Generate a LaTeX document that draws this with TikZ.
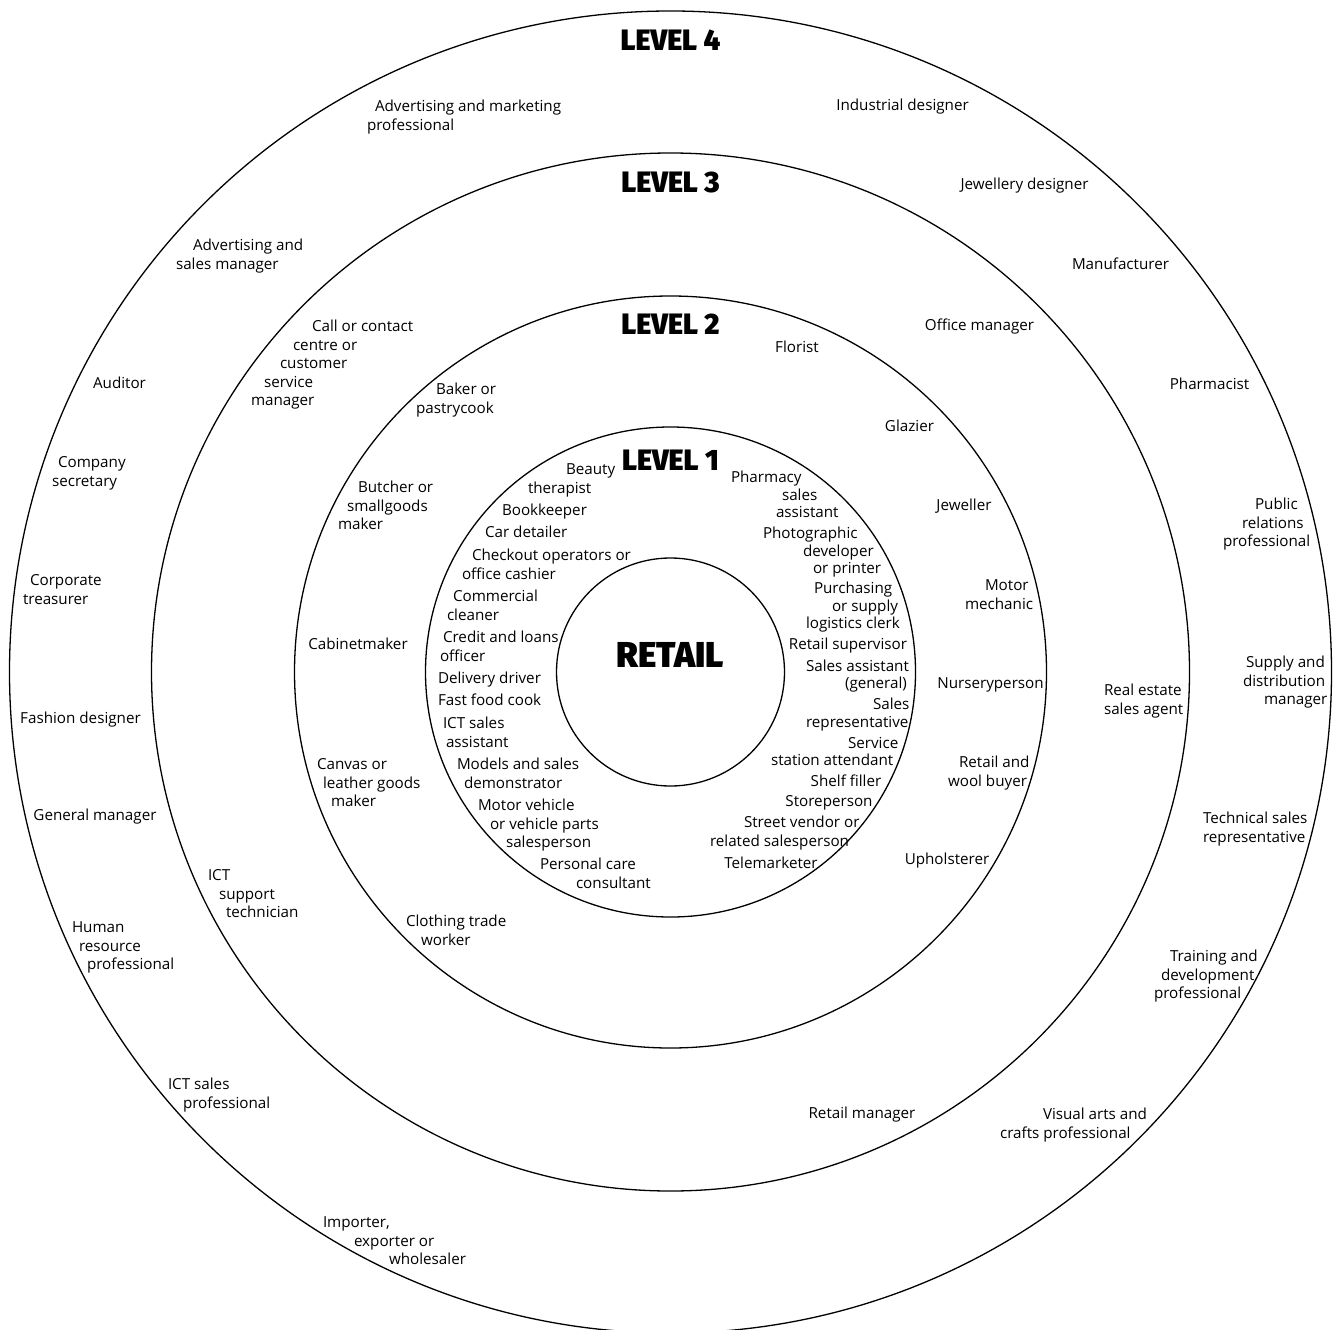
\documentclass[tikz,border=0pt]{standalone}
\usepackage{fontspec}
\setmainfont{Open Sans}
\IfFontExistsTF{Fira Sans Black}{%
  \newfontfamily\headfont{Fira Sans Black}[FakeStretch=0.975]%
  \newcommand{\levelsize}{\fontsize{29.5pt}{30pt}\selectfont}%
  \newcommand{\retailsize}{\fontsize{36pt}{36pt}\selectfont}%
}{%
  \newfontfamily\headfont{TeX Gyre Heros Bold}[FakeStretch=0.86]%
  \newcommand{\levelsize}{\fontsize{28.3pt}{29pt}\selectfont}%
  \newcommand{\retailsize}{\fontsize{34.4pt}{35pt}\selectfont}%
}
\newcommand{\bodyfs}{\fontsize{15.2pt}{18.6pt}\selectfont}
\newcommand{\ml}[1]{\begin{tabular}[t]{@{}l@{}}#1\end{tabular}}
\newcommand{\hs}[1]{\hspace*{#1pt}}
\tikzset{
  lbl/.style={inner sep=0pt, outer sep=0pt, anchor=base west, font=\bodyfs, yshift=-1.5pt},
  one/.style={inner sep=0pt, outer sep=0pt, anchor=base, font=\bodyfs, yshift=-1.5pt},
  headlbl/.style={inner sep=0pt, outer sep=0pt, anchor=base, font=\headfont\levelsize},
  ring/.style={line width=1.3pt, draw=black}
}
\begin{document}
\begin{tikzpicture}[x=1pt,y=-1pt]
\useasboundingbox (0,0) rectangle (1337,1329);
\coordinate (c) at (670.5,672);
\draw[ring] (c) circle[radius=114];
\draw[ring] (c) circle[radius=245];
\draw[ring] (c) circle[radius=376];
\draw[ring] (c) circle[radius=519];
\draw[ring] (c) circle[radius=661];

% headings
\node[headlbl, font=\headfont\retailsize] (retail) at (670.5,667) {RETAIL};
\node[headlbl] (lev1) at (670.5,470) {LEVEL 1};
\node[headlbl] (lev2) at (670.5,334) {LEVEL 2};
\node[headlbl] (lev3) at (670.5,193) {LEVEL 3};
\node[headlbl] (lev4) at (670.5,51) {LEVEL 4};

% level 4
\node[lbl] (l4a) at (367,110) {\ml{\hs{8}Advertising and marketing\\professional}};
\node[one] (l4b) at (902.5,109) {Industrial designer};
\node[one] (l4c) at (1024.5,188) {Jewellery designer};
\node[one] (l4d) at (1120.5,268) {Manufacturer};
\node[one] (l4e) at (1209.5,388) {Pharmacist};
\node[lbl] (l4f) at (1223,508) {\ml{\hs{32}Public\\\hs{19}relations\\professional}};
\node[lbl] (l4g) at (1243,666) {\ml{\hs{3}Supply and\\distribution\\\hs{21}manager}};
\node[lbl] (l4h) at (1203,822) {\ml{Technical sales\\representative}};
\node[lbl] (l4i) at (1154,960) {\ml{\hs{16}Training and\\\hs{7}development\\professional}};
\node[lbl] (l4j) at (1000,1118) {\ml{\hs{43}Visual arts and\\crafts professional}};
\node[lbl] (l4k) at (323,1226) {\ml{Importer,\\\hs{31}exporter or\\\hs{66}wholesaler}};
\node[lbl] (l4l) at (168,1088) {\ml{ICT sales\\\hs{15}professional}};
\node[lbl] (l4m) at (72,931) {\ml{Human\\\hs{7}resource\\\hs{15}professional}};
\node[one] (l4n) at (95,819) {General manager};
\node[one] (l4o) at (80.5,722) {Fashion designer};
\node[lbl] (l4p) at (23,584) {\ml{\hs{7}Corporate\\treasurer}};
\node[lbl] (l4q) at (52,466) {\ml{\hs{6}Company\\secretary}};
\node[one] (l4r) at (119.5,387) {Auditor};
\node[lbl] (l4s) at (176,249) {\ml{\hs{17}Advertising and\\sales manager}};

% level 3
\node[one] (l3a) at (979.5,329) {Office manager};
\node[lbl] (l3b) at (1104,694) {\ml{Real estate\\sales agent}};
\node[one] (l3c) at (862,1117) {Retail manager};
\node[lbl] (l3d) at (208,879) {\ml{ICT\\\hs{11}support\\\hs{18}technician}};
\node[lbl] (l3e) at (251,330) {\ml{\hs{61}Call or contact\\\hs{42}centre or\\\hs{29}customer\\\hs{13}service\\manager}};

% level 2
\node[one] (l2a) at (797,351) {Florist};
\node[one] (l2b) at (909.5,430) {Glazier};
\node[one] (l2c) at (964,509) {Jeweller};
\node[lbl] (l2d) at (965,589) {\ml{\hs{20}Motor\\mechanic}};
\node[one] (l2e) at (990.5,687) {Nurseryperson};
\node[lbl] (l2f) at (948,766) {\ml{\hs{11}Retail and\\wool buyer}};
\node[one] (l2g) at (947,863) {Upholsterer};
\node[lbl] (l2h) at (406,925) {\ml{Clothing trade\\\hs{15}worker}};
\node[lbl] (l2i) at (317,768) {\ml{Canvas or\\\hs{6}leather goods\\\hs{14}maker}};
\node[one] (l2j) at (358,648) {Cabinetmaker};
\node[lbl] (l2k) at (338,491) {\ml{\hs{20}Butcher or\\\hs{9}smallgoods\\maker}};
\node[lbl] (l2l) at (416,393) {\ml{\hs{20}Baker or\\pastrycook}};

% level 1 left
\node[lbl] (l1a) at (528,473) {\ml{\hs{38}Beauty\\therapist}};
\node[lbl] (l1b) at (502,514) {Bookkeeper};
\node[lbl] (l1c) at (485,536) {Car detailer};
\node[lbl] (l1d) at (462,559) {\ml{\hs{10}Checkout operators or\\office cashier}};
\node[lbl] (l1e) at (447,600) {\ml{\hs{6}Commercial\\cleaner}};
\node[lbl] (l1f) at (440,641) {\ml{\hs{3}Credit and loans\\officer}};
\node[lbl] (l1g) at (438,682) {Delivery driver};
\node[lbl] (l1h) at (438,704) {Fast food cook};
\node[lbl] (l1i) at (443,727) {\ml{ICT sales\\\hs{3}assistant}};
\node[lbl] (l1j) at (457,768) {\ml{Models and sales\\\hs{7}demonstrator}};
\node[lbl] (l1k) at (478,809) {\ml{Motor vehicle\\\hs{12}or vehicle parts\\\hs{28}salesperson}};
\node[lbl] (l1l) at (540,868) {\ml{Personal care\\\hs{36}consultant}};

% level 1 right
\node[lbl] (r1a) at (731,481) {\ml{Pharmacy\\[-1pt]\hs{51}sales\\[-1pt]\hs{45}assistant}};
\node[lbl] (r1b) at (763,537) {\ml{Photographic\\[-1pt]\hs{40}developer\\[-1pt]\hs{50}or printer}};
\node[lbl] (r1c) at (806,592) {\ml{\hs{8}Purchasing\\[-1pt]\hs{26}or supply\\[-1pt]logistics clerk}};
\node[one] (r1d) at (848,648) {Retail supervisor};
\node[lbl] (r1e) at (806,670) {\ml{Sales assistant\\[-1.5pt]\hs{39}(general)}};
\node[lbl] (r1f) at (806,708) {\ml{\hs{67}Sales\\[-0.5pt]representative}};
\node[lbl] (r1g) at (771,747) {\ml{\hs{77}Service\\[-1.5pt]station attendant}};
\node[one] (r1h) at (846,785) {Shelf filler};
\node[one] (r1i) at (829,805) {Storeperson};
\node[lbl] (r1j) at (710,826) {\ml{\hs{34}Street vendor or\\related salesperson}};
\node[one] (r1k) at (771,867) {Telemarketer};
\end{tikzpicture}
\end{document}
